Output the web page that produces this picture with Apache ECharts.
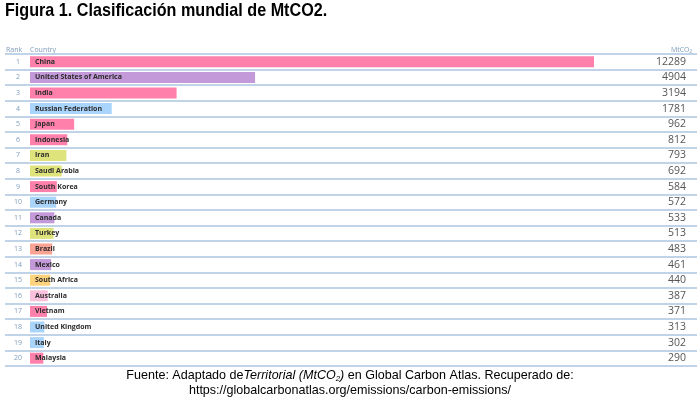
<!DOCTYPE html>
<html>
<head>
<meta charset="utf-8">
<script src="https://cdn.jsdelivr.net/npm/echarts@6/dist/echarts.min.js"></script>
<style>
  html, body { margin: 0; padding: 0; background: #fff; }
  #chart { width: 700px; height: 399px; }
</style>
</head>
<body>
<div id="chart"></div>
<script>
// datos
var ranks = ['1','2','3','4','5','6','7','8','9','10','11','12','13','14','15','16','17','18','19','20'];
var countries = ['China','United States of America','India','Russian Federation','Japan','Indonesia','Iran',
  'Saudi Arabia','South Korea','Germany','Canada','Turkey','Brazil','Mexico','South Africa','Australia',
  'Vietnam','United Kingdom','Italy','Malaysia'];
var values = [12289, 4904, 3194, 1781, 962, 812, 793, 692, 584, 572, 533, 513, 483, 461, 440, 387, 371, 313, 302, 290];
var regions = ['Asia','North America','Asia','Europe','Asia','Asia','Middle East','Middle East','Asia','Europe',
  'North America','Middle East','South America','North America','Africa','Oceania','Asia','Europe','Europe','Asia'];

// colores por región
var regionColors = {
  'Asia': '#ff80ab',
  'North America': '#c399d9',
  'Europe': '#a9d4fb',
  'Middle East': '#dfe37c',
  'South America': '#faa294',
  'Africa': '#ffd37c',
  'Oceania': '#f9c1dd'
};

var chart = echarts.init(document.getElementById('chart'));

var barData = values.map(function (v, i) {
  return { value: v, name: countries[i], itemStyle: { color: regionColors[regions[i]] } };
});

var option = {
  animation: false,
  textStyle: { fontFamily: 'Open Sans' },
  graphic: [
    // título (la imagen original está algo comprimida en horizontal)
    {
      type: 'text', x: 5, y: 1, scaleX: 0.85,
      style: { text: 'Figura 1. Clasificación mundial de MtCO2.', font: 'bold 19px "Liberation Sans"', fill: '#000' }
    },
    { type: 'text', left: 6, top: 46, style: { text: 'Rank', font: '7px "Open Sans"', fill: '#7d9cbd' } },
    { type: 'text', left: 30, top: 46, style: { text: 'Country', font: '7px "Open Sans"', fill: '#7d9cbd' } },
    { type: 'text', x: 692, y: 46, style: { text: 'MtCO₂', align: 'right', font: '7px "Open Sans"', fill: '#7d9cbd' } },
    {
      type: 'text',
      x: 350,
      y: 368,
      scaleX: 0.965,
      style: {
        text: '{n|Fuente: Adaptado de}{i|Territorial (MtCO}{s|2}{i|)}{n| en Global Carbon Atlas. Recuperado de:}\n{n|https://globalcarbonatlas.org/emissions/carbon-emissions/}',
        align: 'center',
        verticalAlign: 'top',
        font: '13px "Liberation Sans"',
        fill: '#000',
        lineHeight: 15,
        rich: {
          n: { fontFamily: 'Liberation Sans', fontSize: 13, fill: '#000', lineHeight: 15 },
          i: { fontFamily: 'Liberation Sans', fontSize: 13, fontStyle: 'italic', fill: '#000', lineHeight: 15 },
          s: { fontFamily: 'Liberation Sans', fontSize: 8, fontStyle: 'italic', fill: '#000', lineHeight: 15, padding: [6, 0, 0, 0] }
        }
      }
    }
  ],
  grid: [
    { left: 30, right: 106, top: 54, height: 312 },
    { left: 5, right: 3, top: 54, height: 312 }
  ],
  xAxis: [
    { type: 'value', gridIndex: 0, min: 0, max: 12289, show: false },
    { type: 'value', gridIndex: 1, min: 0, max: 1, show: false }
  ],
  yAxis: [
    {
      type: 'category', gridIndex: 0, data: ranks, inverse: true, position: 'left',
      axisLine: { show: false }, axisTick: { show: false }, splitLine: { show: false },
      axisLabel: { margin: 12, align: 'center', fontSize: 7, color: '#7d9cbd' }
    },
    {
      type: 'category', gridIndex: 0, data: values.map(String), inverse: true, position: 'right',
      axisLine: { show: false }, axisTick: { show: false }, splitLine: { show: false },
      axisLabel: { margin: 92, align: 'right', fontSize: 10.5, color: '#555' }
    },
    {
      type: 'category', gridIndex: 1, data: ranks, inverse: true,
      axisLine: { show: false }, axisTick: { show: false }, axisLabel: { show: false },
      splitLine: { show: true, interval: 0, lineStyle: { color: '#abc5df', width: 1.6 } }
    }
  ],
  series: [
    {
      type: 'bar',
      xAxisIndex: 0,
      yAxisIndex: 0,
      data: barData,
      barWidth: 11,
      label: {
        show: true,
        position: 'insideLeft',
        distance: 5,
        formatter: '{b}',
        fontSize: 7,
        fontWeight: 'bold',
        color: '#2b2b2b'
      }
    }
  ]
};

chart.setOption(option);
</script>
</body>
</html>
